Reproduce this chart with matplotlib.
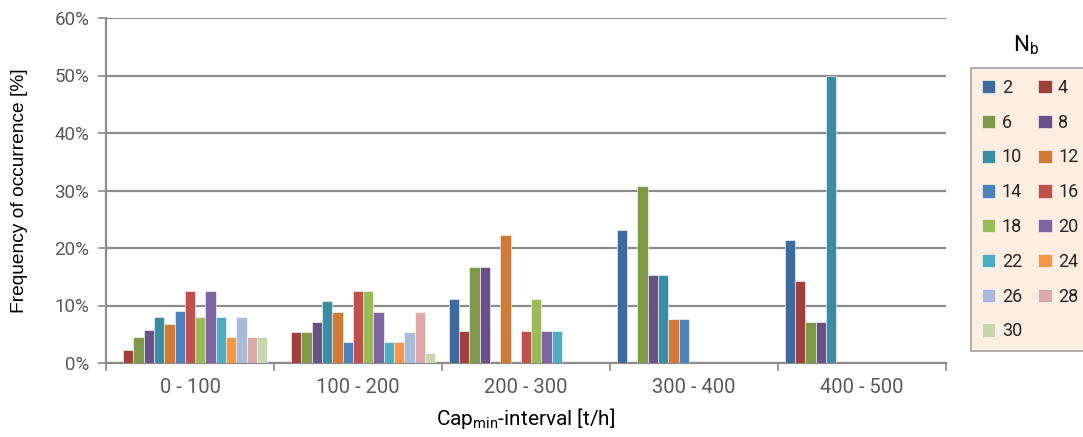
import numpy as np
import matplotlib
matplotlib.use("Agg")
import matplotlib.pyplot as plt
from matplotlib.ticker import FuncFormatter, FixedLocator, NullFormatter

plt.rcParams['font.family'] = ['Roboto', 'DejaVu Sans']
plt.rcParams['mathtext.fontset'] = 'custom'
plt.rcParams['mathtext.rm'] = 'Roboto'

intervals = ["0 - 100", "100 - 200", "200 - 300", "300 - 400", "400 - 500"]
nb_values = [2, 4, 6, 8, 10, 12, 14, 16, 18, 20, 22, 24, 26, 28, 30]

# frequency of occurrence [%] per interval, one list per N_b
freq = {
    2:  [0.00, 0.00, 11.11, 23.08, 21.43],
    4:  [2.27, 5.36, 5.56, 0.00, 14.29],
    6:  [4.55, 5.36, 16.67, 30.77, 7.14],
    8:  [5.68, 7.14, 16.67, 15.38, 7.14],
    10: [7.95, 10.71, 0.00, 15.38, 50.00],
    12: [6.82, 8.93, 22.22, 7.69, 0.00],
    14: [9.09, 3.57, 0.00, 7.69, 0.00],
    16: [12.50, 12.50, 5.56, 0.00, 0.00],
    18: [7.95, 12.50, 11.11, 0.00, 0.00],
    20: [12.50, 8.93, 5.56, 0.00, 0.00],
    22: [7.95, 3.57, 5.56, 0.00, 0.00],
    24: [4.55, 3.57, 0.00, 0.00, 0.00],
    26: [7.95, 5.36, 0.00, 0.00, 0.00],
    28: [4.55, 8.93, 0.00, 0.00, 0.00],
    30: [4.55, 1.79, 0.00, 0.00, 0.00],
}

colors = {
    2: "#3F6A9E", 4: "#A0403D", 6: "#7E9A48", 8: "#6A5088", 10: "#3A8DA3",
    12: "#D07A36", 14: "#4F81BD", 16: "#C0504D", 18: "#9BBB59", 20: "#8064A2",
    22: "#4BACC6", 24: "#F79646", 26: "#A9B9D9", 28: "#DCA8A8", 30: "#C6D6AE",
}

W, H = 1083, 437
fig = plt.figure(figsize=(W / 100, H / 100), dpi=100)
ax = fig.add_axes([106 / W, 1 - 363 / H, 840 / W, 345 / H])

n = len(nb_values)
gap = 1.3
bw = 1.0 / (n + gap)
x = np.arange(len(intervals))
handles = {}
for i, nb in enumerate(nb_values):
    offs = -0.5 + bw * gap / 2 + bw * (i + 0.5)
    b = ax.bar(x + offs, freq[nb], width=bw, color=colors[nb],
               edgecolor="#FFFFFF", linewidth=0.4, zorder=3)
    handles[nb] = b

ax.set_xlim(-0.5, len(intervals) - 0.5)
ax.set_ylim(0, 60)
ax.yaxis.set_major_locator(FixedLocator(np.arange(0, 61, 10)))
ax.yaxis.set_major_formatter(FuncFormatter(lambda v, p: f"{v:.0f}%"))
ax.grid(axis="y", color="#8C8C8C", linewidth=1.6, zorder=0)
ax.set_axisbelow(True)

ax.xaxis.set_major_locator(FixedLocator(np.arange(-0.5, len(intervals), 1.0)))
ax.xaxis.set_major_formatter(NullFormatter())
ax.xaxis.set_minor_locator(FixedLocator(x))
ax.set_xticklabels(intervals, minor=True)
ax.tick_params(axis="x", which="major", direction="out", length=6,
               color="#8C8C8C", width=1.2)
ax.tick_params(axis="x", which="minor", length=0, pad=11,
               labelsize=14.5, labelcolor="#595959")
ax.tick_params(axis="y", direction="out", length=6, color="#8C8C8C",
               width=1.2, labelsize=13.5, labelcolor="#595959", pad=6)

for s in ["top", "right"]:
    ax.spines[s].set_visible(False)
for s in ["left", "bottom"]:
    ax.spines[s].set_color("#8C8C8C")
    ax.spines[s].set_linewidth(1.6)

ax.set_ylabel("Frequency of occurrence [%]", fontsize=13.8,
              family=["Liberation Sans", "DejaVu Sans"])
ax.yaxis.set_label_coords((28 - 106) / 840, 0.5)
ax.set_xlabel(r"Cap$_{\mathregular{min}}$-interval [t/h]", fontsize=15)
ax.xaxis.set_label_coords(0.5, (363 - 406) / 345)

order = [nb for nb in nb_values if nb % 4 == 2] + [nb for nb in nb_values if nb % 4 == 0]
leg = fig.legend([handles[nb] for nb in order], [str(nb) for nb in order],
                 loc="upper left", bbox_to_anchor=(971 / W, 1 - 68 / H),
                 ncol=2, fontsize=13, frameon=True, fancybox=False,
                 handlelength=0.75, handleheight=0.75, handletextpad=0.35,
                 columnspacing=0.9, labelspacing=0.93, borderpad=0.6,
                 borderaxespad=0)
leg.get_frame().set_facecolor("#FDEADA")
leg.get_frame().set_edgecolor("#8C8C8C")
leg.get_frame().set_linewidth(1.2)
for t in leg.get_texts():
    t.set_color("#262626")

fig.text(1026 / W, 1 - 45 / H, r"$\mathregular{N_b}$", fontsize=16,
         ha="center", va="center")

fig.savefig("out.png", dpi=100)
